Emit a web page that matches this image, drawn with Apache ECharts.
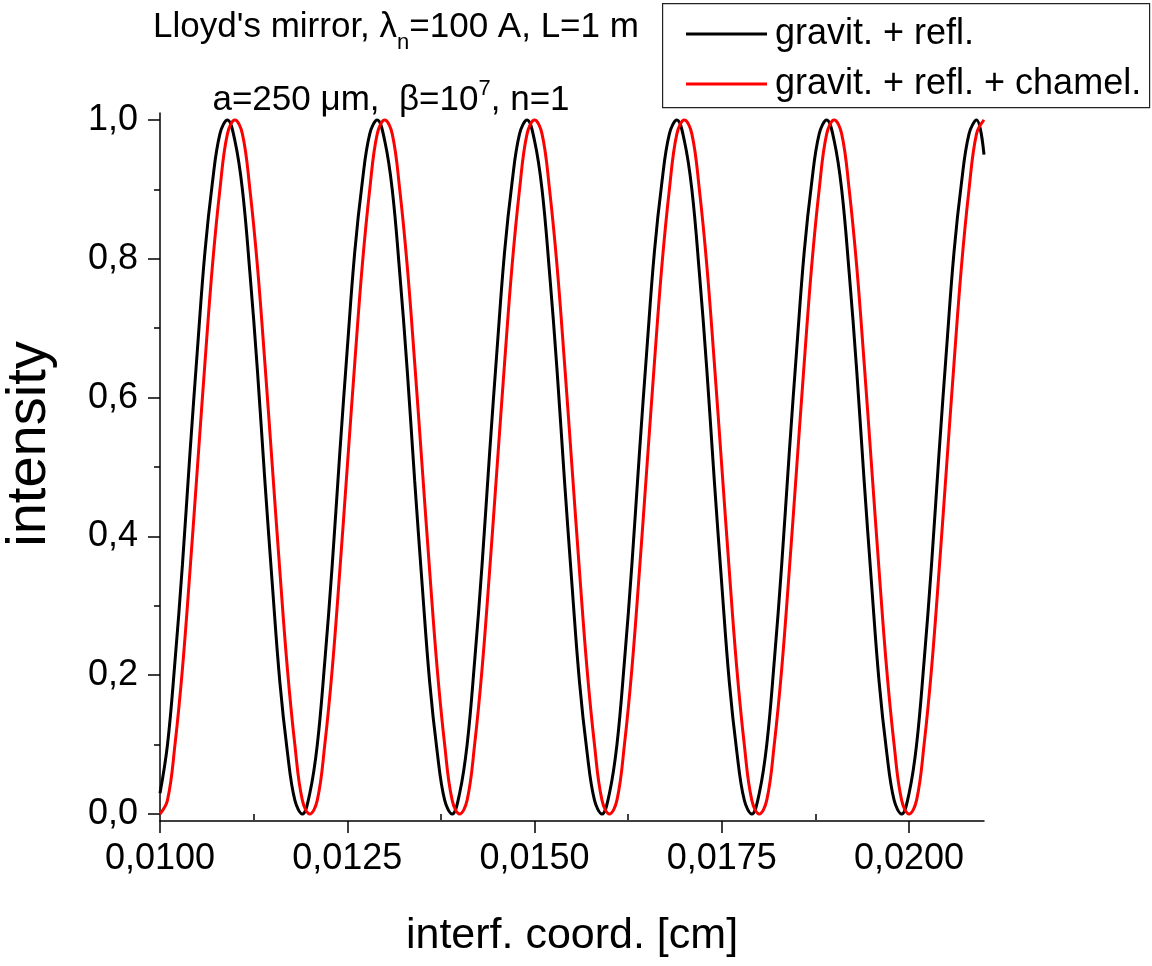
<!DOCTYPE html>
<html>
<head>
<meta charset="utf-8">
<script src="https://cdn.jsdelivr.net/npm/echarts@6/dist/echarts.min.js"></script>
<style>html,body{margin:0;padding:0;background:#fff}#c{width:1152px;height:966px}</style>
</head>
<body>
<div id="c"></div>
<script>
// interference coordinate [cm]
const xs = [
0.0100,0.0101,0.0102,0.0103,0.0104,0.0105,0.0106,0.0107,0.0108,0.0109,
0.0110,0.0111,0.0112,0.0113,0.0114,0.0115,0.0116,0.0117,0.0118,0.0119,
0.0120,0.0121,0.0122,0.0123,0.0124,0.0125,0.0126,0.0127,0.0128,0.0129,
0.0130,0.0131,0.0132,0.0133,0.0134,0.0135,0.0136,0.0137,0.0138,0.0139,
0.0140,0.0141,0.0142,0.0143,0.0144,0.0145,0.0146,0.0147,0.0148,0.0149,
0.0150,0.0151,0.0152,0.0153,0.0154,0.0155,0.0156,0.0157,0.0158,0.0159,
0.0160,0.0161,0.0162,0.0163,0.0164,0.0165,0.0166,0.0167,0.0168,0.0169,
0.0170,0.0171,0.0172,0.0173,0.0174,0.0175,0.0176,0.0177,0.0178,0.0179,
0.0180,0.0181,0.0182,0.0183,0.0184,0.0185,0.0186,0.0187,0.0188,0.0189,
0.0190,0.0191,0.0192,0.0193,0.0194,0.0195,0.0196,0.0197,0.0198,0.0199,
0.0200,0.0201,0.0202,0.0203,0.0204,0.0205,0.0206,0.0207,0.0208,0.0209,
0.0210];
// "gravit. + refl." (black)
const gravRefl = [
0.03,0.10,0.22,0.36,0.52,0.67,0.81,0.91,0.98,1.00,0.97,0.90,0.78,0.64,0.48,0.33,0.19,0.09,0.02,0.00,
0.03,0.10,0.22,0.36,0.52,0.67,0.81,0.91,0.98,1.00,0.97,0.90,0.78,0.64,0.48,0.33,0.19,0.09,0.02,0.00,
0.03,0.10,0.22,0.36,0.52,0.67,0.81,0.91,0.98,1.00,0.97,0.90,0.78,0.64,0.48,0.33,0.19,0.09,0.02,0.00,
0.03,0.10,0.22,0.36,0.52,0.67,0.81,0.91,0.98,1.00,0.97,0.90,0.78,0.64,0.48,0.33,0.19,0.09,0.02,0.00,
0.03,0.10,0.22,0.36,0.52,0.67,0.81,0.91,0.98,1.00,0.97,0.90,0.78,0.64,0.48,0.33,0.19,0.09,0.02,0.00,
0.03,0.10,0.22,0.36,0.52,0.67,0.81,0.91,0.98,1.00,0.95];
// "gravit. + refl. + chamel." (red)
const gravReflCham = [
0.00,0.02,0.10,0.21,0.35,0.50,0.65,0.79,0.90,0.98,1.00,0.98,0.90,0.79,0.65,0.50,0.35,0.21,0.10,0.02,
0.00,0.02,0.10,0.21,0.35,0.50,0.65,0.79,0.90,0.98,1.00,0.98,0.90,0.79,0.65,0.50,0.35,0.21,0.10,0.02,
0.00,0.02,0.10,0.21,0.35,0.50,0.65,0.79,0.90,0.98,1.00,0.98,0.90,0.79,0.65,0.50,0.35,0.21,0.10,0.02,
0.00,0.02,0.10,0.21,0.35,0.50,0.65,0.79,0.90,0.98,1.00,0.98,0.90,0.79,0.65,0.50,0.35,0.21,0.10,0.02,
0.00,0.02,0.10,0.21,0.35,0.50,0.65,0.79,0.90,0.98,1.00,0.98,0.90,0.79,0.65,0.50,0.35,0.21,0.10,0.02,
0.00,0.02,0.10,0.21,0.35,0.50,0.65,0.79,0.90,0.98,1.00];
const seriesNames = ['gravit. + refl.', 'gravit. + refl. + chamel.'];
const xMajorTicks = [0.0100, 0.0125, 0.0150, 0.0175, 0.0200];
const xMinorTicks = [0.01125, 0.01375, 0.01625, 0.01875];
const yMajorTicks = [0.0, 0.2, 0.4, 0.6, 0.8, 1.0];
const yMinorTicks = [0.1, 0.3, 0.5, 0.7, 0.9];

const FONT = '"Liberation Sans", Arial, sans-serif';
const chart = echarts.init(document.getElementById('c'), null, {renderer: 'canvas'});
const comma = (v, d) => v.toFixed(d).replace('.', ',');

chart.setOption({
  backgroundColor: '#fff',
  animation: false,
  textStyle: {fontFamily: FONT, color: '#000'},
  title: [{
    text: "{m|Lloyd's mirror, λ}{sub|n}{m|=100 A, L=1 m}",
    left: 391, top: 5, textAlign: 'center',
    textStyle: {
      fontFamily: FONT, fontWeight: 'normal', color: '#000', fontSize: 35,
      rich: {
        m: {fontFamily: FONT, fontSize: 35, lineHeight: 44, verticalAlign: 'top', color: '#000'},
        sub: {fontFamily: FONT, fontSize: 22, lineHeight: 22, verticalAlign: 'bottom', padding: [33, 0, 0, 0], color: '#000'}
      }
    }
  }, {
    text: "{m|a=250 μm,  β=10}{sup|7}{m|, n=1}",
    left: 386, top: 73, textAlign: 'center',
    textStyle: {
      fontFamily: FONT, fontWeight: 'normal', color: '#000', fontSize: 35,
      rich: {
        m: {fontFamily: FONT, fontSize: 35, lineHeight: 40, verticalAlign: 'bottom', color: '#000'},
        sup: {fontFamily: FONT, fontSize: 22, lineHeight: 22, verticalAlign: 'top', padding: [0, 0, 22, 0], color: '#000'}
      }
    }
  }],
  graphic: [{
    type: 'rect', left: 662, top: 3, z: 100,
    shape: {width: 487, height: 104},
    style: {fill: 'rgba(0,0,0,0)', stroke: '#222', lineWidth: 1.2}
  }, {
    type: 'text', x: 30, y: 444, rotation: Math.PI / 2, z: 100,
    style: {text: 'intensity', font: '56px "Liberation Sans", Arial, sans-serif',
      fill: '#000', align: 'center', verticalAlign: 'middle'}
  }],
  legend: {
    data: seriesNames.map(n => ({name: n, icon: 'rect'})),
    orient: 'vertical', left: 686, top: 14, padding: 0,
    itemWidth: 81, itemHeight: 3, itemGap: 10,
    textStyle: {fontFamily: FONT, fontSize: 36, lineHeight: 40, color: '#000', padding: [0, 0, 0, 3]}
  },
  grid: {left: 160, right: 168, top: 113, bottom: 145, containLabel: false, outerBoundsMode: 'none'},
  xAxis: [{
    type: 'value', min: 0.0100, max: 0.0210, position: 'bottom',
    name: 'interf. coord. [cm]', nameLocation: 'middle', nameGap: 94,
    nameTextStyle: {fontFamily: FONT, fontSize: 43, color: '#000'},
    axisLine: {show: true, onZero: false, lineStyle: {color: '#000', width: 1.5}},
    axisTick: {show: true, customValues: xMajorTicks, length: 12, lineStyle: {color: '#000', width: 1.5}},
    axisLabel: {customValues: xMajorTicks, margin: 20, fontFamily: FONT, fontSize: 36, color: '#000',
      formatter: v => comma(v, 4)},
    splitLine: {show: false}
  }, {
    type: 'value', min: 0.0100, max: 0.0210, position: 'bottom',
    axisLine: {show: false},
    axisTick: {show: true, customValues: xMinorTicks, length: 6, lineStyle: {color: '#000', width: 1.5}},
    axisLabel: {show: false},
    splitLine: {show: false}
  }],
  yAxis: [{
    type: 'value', min: -0.01, max: 1.01, position: 'left',
    axisLine: {show: true, onZero: false, lineStyle: {color: '#000', width: 1.5}},
    axisTick: {show: true, customValues: yMajorTicks, length: 12, lineStyle: {color: '#000', width: 1.5}},
    axisLabel: {customValues: yMajorTicks, margin: 22, fontFamily: FONT, fontSize: 36, color: '#000',
      formatter: v => comma(v, 1)},
    splitLine: {show: false}
  }, {
    type: 'value', min: -0.01, max: 1.01, position: 'left',
    axisLine: {show: false},
    axisTick: {show: true, customValues: yMinorTicks, length: 6, lineStyle: {color: '#000', width: 1.5}},
    axisLabel: {show: false},
    splitLine: {show: false}
  }],
  series: [{
    name: seriesNames[0], type: 'line', xAxisIndex: 0, yAxisIndex: 0,
    data: xs.map((x, i) => [x, gravRefl[i]]),
    symbol: 'none', showSymbol: false, smooth: 0.4,
    lineStyle: {color: '#000000', width: 3}, itemStyle: {color: '#000000'}
  }, {
    name: seriesNames[1], type: 'line', xAxisIndex: 0, yAxisIndex: 0,
    data: xs.map((x, i) => [x, gravReflCham[i]]),
    symbol: 'none', showSymbol: false, smooth: 0.4,
    lineStyle: {color: '#ff0000', width: 3}, itemStyle: {color: '#ff0000'}
  }]
});
</script>
</body>
</html>
